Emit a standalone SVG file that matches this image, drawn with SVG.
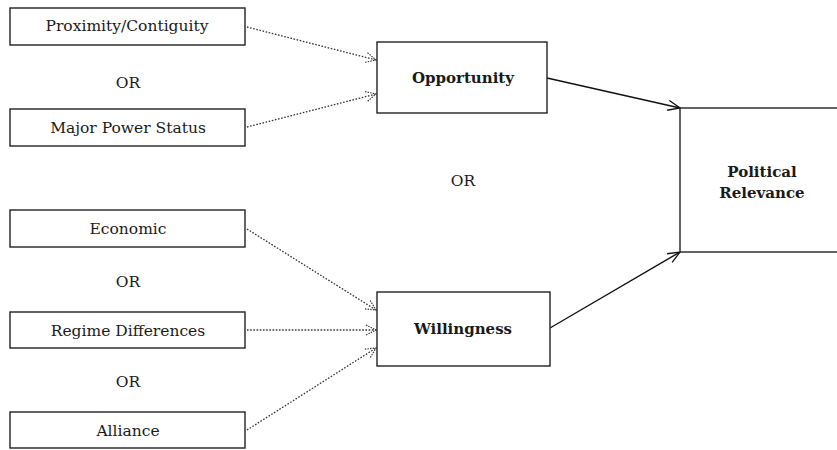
<svg xmlns="http://www.w3.org/2000/svg" width="837" height="450" viewBox="0 0 837 450">
  <style>
    .box { fill: #fff; stroke: #222; stroke-width: 1.4; }
    .lbl { font-family: "DejaVu Serif", "Liberation Serif", serif; font-size: 15.5px; fill: #1a1a1a; text-anchor: middle; }
    .bold { font-weight: bold; font-size: 15px; }
    .dot { fill: none; stroke: #333; stroke-width: 1.3; stroke-dasharray: 1.6 1.6; }
    .solid { fill: none; stroke: #111; stroke-width: 1.4; }
  </style>
  <defs>
    <marker id="openDot" viewBox="0 0 12 12" refX="11" refY="6" markerWidth="12" markerHeight="12" markerUnits="userSpaceOnUse" orient="auto">
      <path d="M1,1 L11,6 L1,11" fill="none" stroke="#333" stroke-width="1.2" stroke-dasharray="1.4 1.2"/>
    </marker>
    <marker id="open" viewBox="0 0 14 14" refX="13" refY="7" markerWidth="14" markerHeight="14" markerUnits="userSpaceOnUse" orient="auto">
      <path d="M1,2 L13,7 L1,12" fill="none" stroke="#111" stroke-width="1.3"/>
    </marker>
  </defs>
  <rect width="837" height="450" fill="#fff"/>

  <!-- connectors -->
  <g id="connectors">
    <line class="dot" x1="247" y1="27" x2="376" y2="60" marker-end="url(#openDot)"/>
    <line class="dot" x1="247" y1="127" x2="376" y2="94" marker-end="url(#openDot)"/>
    <line class="dot" x1="247" y1="229" x2="376" y2="310" marker-end="url(#openDot)"/>
    <line class="dot" x1="247" y1="330" x2="376" y2="330" marker-end="url(#openDot)"/>
    <line class="dot" x1="247" y1="430" x2="376" y2="348" marker-end="url(#openDot)"/>
    <line class="solid" x1="547" y1="78" x2="680" y2="108" marker-end="url(#open)"/>
    <line class="solid" x1="550" y1="328" x2="680" y2="252" marker-end="url(#open)"/>
  </g>

  <!-- left-hand inputs -->
  <g id="proximity">
    <rect class="box" x="10" y="8" width="235" height="37"/>
    <text class="lbl" x="127" y="31">Proximity/Contiguity</text>
  </g>
  <g id="or1"><text class="lbl" x="128" y="88">OR</text></g>
  <g id="major-power">
    <rect class="box" x="10" y="109" width="235" height="37"/>
    <text class="lbl" x="128" y="133">Major Power Status</text>
  </g>

  <g id="economic">
    <rect class="box" x="10" y="210" width="235" height="37"/>
    <text class="lbl" x="128" y="234">Economic</text>
  </g>
  <g id="or2"><text class="lbl" x="128" y="287">OR</text></g>
  <g id="regime">
    <rect class="box" x="10" y="312" width="235" height="36"/>
    <text class="lbl" x="128" y="336">Regime Differences</text>
  </g>
  <g id="or3"><text class="lbl" x="128" y="387">OR</text></g>
  <g id="alliance">
    <rect class="box" x="10" y="412" width="235" height="36"/>
    <text class="lbl" x="128" y="436">Alliance</text>
  </g>

  <!-- intermediate factors -->
  <g id="opportunity">
    <rect class="box" x="377" y="42" width="170" height="71"/>
    <text class="lbl bold" x="463" y="83">Opportunity</text>
  </g>
  <g id="or-mid"><text class="lbl" x="463" y="186">OR</text></g>
  <g id="willingness">
    <rect class="box" x="377" y="292" width="173" height="74"/>
    <text class="lbl bold" x="463" y="334">Willingness</text>
  </g>

  <!-- outcome -->
  <g id="political-relevance">
    <rect class="box" x="680" y="108" width="200" height="144"/>
    <text class="lbl bold" x="762" y="177">Political</text>
    <text class="lbl bold" x="762" y="198">Relevance</text>
  </g>
</svg>
